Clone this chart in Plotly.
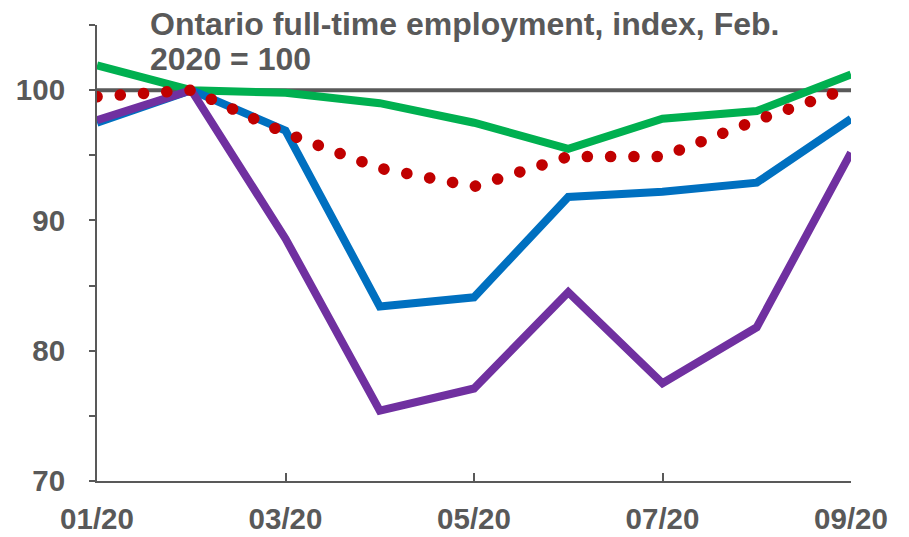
import plotly.graph_objects as go

months = ["01/20", "02/20", "03/20", "04/20", "05/20", "06/20", "07/20", "08/20", "09/20"]
tick_months = ["01/20", "03/20", "05/20", "07/20", "09/20"]
base_value = 100

series_a = [101.9, 100.0, 99.8, 99.0, 97.5, 95.5, 97.8, 98.4, 101.2]   # green
series_b = [97.5, 100.0, 96.9, 83.4, 84.1, 91.8, 92.2, 92.9, 97.8]     # blue
series_c = [97.7, 100.0, 88.6, 75.4, 77.1, 84.5, 77.5, 81.8, 95.2]     # purple
series_d = [99.5, 100.0, 96.7, 94.0, 92.6, 94.9, 94.9, 97.7, 100.2]    # red dotted

y_tickvals = [70, 75, 80, 85, 90, 95, 100, 105]
y_ticktext = ["70", "", "80", "", "90", "", "100", ""]

title_line1 = "Ontario full-time employment, index, Feb."
title_line2 = "2020 = 100"

GRAY = "#595959"
FONT = "Liberation Sans, Arial, sans-serif"
FS_TICK = 29.5
FS_TITLE = 32

fig = go.Figure()
fig.add_trace(go.Scatter(x=months, y=[base_value] * len(months), mode="lines",
                         line=dict(color=GRAY, width=4), name="Feb. 2020 = 100",
                         hoverinfo="skip"))
fig.add_trace(go.Scatter(x=months, y=series_a, mode="lines",
                         line=dict(color="#00B050", width=8), name="Series A"))
fig.add_trace(go.Scatter(x=months, y=series_b, mode="lines",
                         line=dict(color="#0070C0", width=8), name="Series B"))
fig.add_trace(go.Scatter(x=months, y=series_c, mode="lines",
                         line=dict(color="#7030A0", width=8), name="Series C"))
fig.add_trace(go.Scatter(x=months, y=series_d, mode="lines",
                         line=dict(color="#C00000", width=11.5, dash="0.1px,23.2px"),
                         name="Series D"))

H_PLOT = 537 - 25 - 56

fig.update_layout(
    width=909, height=537,
    margin=dict(l=97, r=58, t=25, b=56),
    paper_bgcolor="white", plot_bgcolor="white",
    showlegend=False,
    font=dict(family=FONT, color=GRAY, size=FS_TICK),
    xaxis=dict(
        type="category", categoryorder="array", categoryarray=months,
        range=[0, len(months) - 1],
        tickmode="array", tickvals=tick_months, ticktext=tick_months,
        ticks="inside", ticklen=8, tickwidth=2, tickcolor=GRAY,
        showline=True, linecolor=GRAY, linewidth=2,
        showgrid=False, zeroline=False, automargin=False,
        tickfont=dict(family=FONT, size=FS_TICK, color=GRAY, weight="bold"),
        ticklabelstandoff=11,
    ),
    yaxis=dict(
        range=[70, 105],
        tickmode="array", tickvals=y_tickvals, ticktext=y_ticktext,
        ticks="outside", ticklen=6, tickwidth=2, tickcolor=GRAY,
        showline=True, linecolor=GRAY, linewidth=2,
        showgrid=False, zeroline=False, automargin=False,
        tickfont=dict(family=FONT, size=FS_TICK, color=GRAY, weight="bold"),
        ticklabelstandoff=18,
    ),
    annotations=[
        dict(text=title_line1, xref="paper", yref="paper",
             x=(148 - 97) / 754, y=1 + (25 - 24) / H_PLOT,
             xanchor="left", yanchor="middle", align="left", showarrow=False,
             font=dict(family=FONT, size=FS_TITLE, color=GRAY, weight="bold")),
        dict(text=title_line2, xref="paper", yref="paper",
             x=(148 - 97) / 754, y=1 - (59 - 25) / H_PLOT,
             xanchor="left", yanchor="middle", align="left", showarrow=False,
             font=dict(family=FONT, size=FS_TITLE, color=GRAY, weight="bold")),
    ],
)

post = """
document.body.style.margin = '0';
document.body.style.padding = '0';
var paths = document.querySelectorAll('.scatterlayer .trace');
var last = paths[paths.length - 1];
if (last) { last.querySelectorAll('path.js-line').forEach(function(p){ p.style.strokeLinecap = 'round'; }); }
"""
fig.write_html("out.html", post_script=post, config={"displayModeBar": False})
